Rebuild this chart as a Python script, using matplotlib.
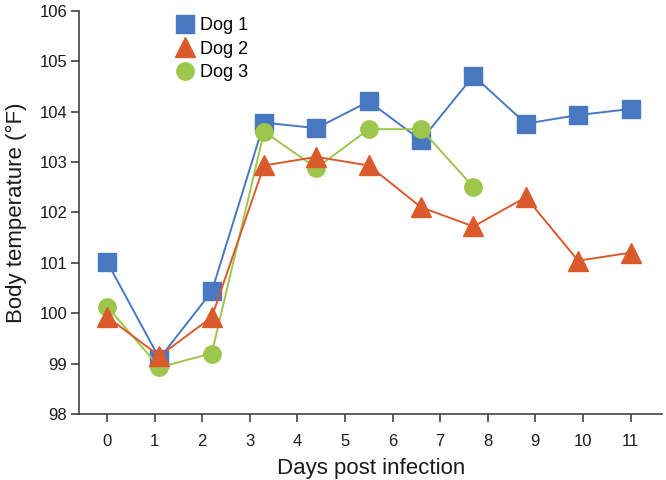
import numpy as np
import matplotlib.pyplot as plt

plt.rcParams['font.family'] = ['Liberation Sans', 'DejaVu Sans']

# sampling points (days post infection)
days = [0, 1.1, 2.2, 3.3, 4.4, 5.5, 6.6, 7.7, 8.8, 9.9, 11.0]

dog1 = [101.02, 99.1, 100.43, 103.78, 103.67, 104.2, 103.43, 104.71, 103.76, 103.93, 104.05]
dog2 = [99.93, 99.15, 99.92, 102.93, 103.1, 102.93, 102.1, 101.72, 102.3, 101.04, 101.2]
dog3 = [100.13, 98.93, 99.2, 103.6, 102.88, 103.65, 103.65, 102.5]

xticks = list(range(12))
yticks = list(range(98, 107))

BLUE = "#4878C0"
ORANGE = "#DB5A2B"
GREEN = "#9CC64C"

fig = plt.figure(figsize=(6.66, 4.8), dpi=100)
ax = fig.add_axes([0.1186, 0.1375, 0.876, 0.8402])

ax.plot(days, dog1, color=BLUE, marker="s", markersize=12.5, linewidth=1.4,
        label="Dog 1", zorder=2)
ax.plot(days[:len(dog3)], dog3, color=GREEN, marker="o", markersize=12.5, linewidth=1.4,
        label="Dog 3", zorder=3)
ax.plot(days, dog2, color=ORANGE, marker="^", markersize=14, linewidth=1.4,
        label="Dog 2", zorder=4)

ax.set_xlim(-0.59, 11.67)
ax.set_ylim(98, 106)
ax.set_xticks(xticks)
ax.set_yticks(yticks)

for s in ("top", "right"):
    ax.spines[s].set_visible(False)
for s in ("left", "bottom"):
    ax.spines[s].set_linewidth(1.1)
    ax.spines[s].set_color("#333333")

ax.tick_params(direction="out", length=5.5, width=1.1, colors="#333333",
               labelsize=12, labelcolor="#1a1a1a", pad=3)
ax.tick_params(axis="x", pad=9)

ax.set_xlabel("Days post infection", fontsize=16, color="#1a1a1a", labelpad=6.5)
ax.set_ylabel("Body temperature (°F)", fontsize=16, color="#1a1a1a", labelpad=9)

handles, labels = ax.get_legend_handles_labels()
order = [0, 2, 1]
leg = ax.legend([handles[i] for i in order], [labels[i] for i in order],
                loc="upper left", bbox_to_anchor=(174.0 / 666, 1 - 17.0 / 480),
                bbox_transform=fig.transFigure, frameon=False,
                fontsize=13, handlelength=1.2, handletextpad=0.25,
                labelspacing=0.36, borderpad=0, borderaxespad=0)
for h in leg.legend_handles:
    h.set_linestyle("none")

fig.savefig("out.png", dpi=100)
